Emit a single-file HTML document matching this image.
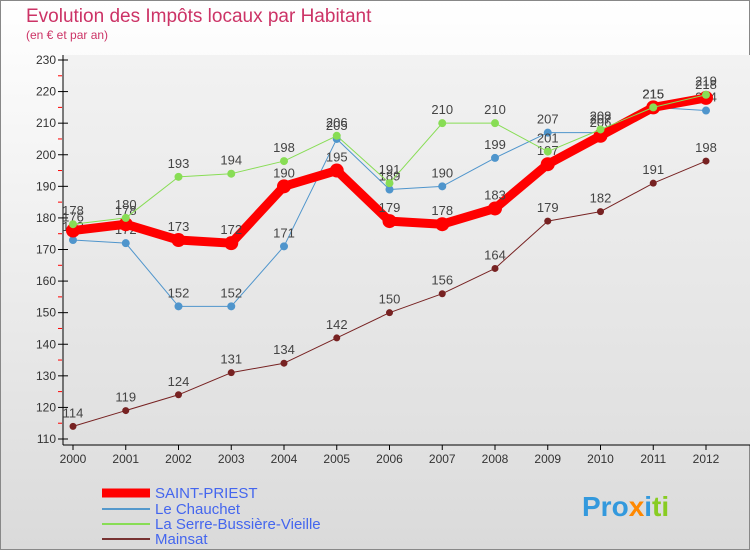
<!DOCTYPE html>
<html><head><meta charset="utf-8">
<style>
body{margin:0;background:#fff;font-family:"Liberation Sans",sans-serif;}
svg text{font-family:"Liberation Sans",sans-serif;}
</style></head>
<body>
<svg id="c" width="750" height="550" viewBox="0 0 750 550" xmlns="http://www.w3.org/2000/svg">
<defs>
<linearGradient id="bg" x1="0" y1="0" x2="0" y2="1">
<stop offset="0" stop-color="#ffffff"/><stop offset="1" stop-color="#dadada"/>
</linearGradient>
<linearGradient id="pbg" x1="0" y1="0" x2="0" y2="1">
<stop offset="0" stop-color="#f2f2f2"/><stop offset="1" stop-color="#e0e0e0"/>
</linearGradient>
</defs>
<rect x="0.5" y="0.5" width="749" height="549" fill="url(#bg)" stroke="#888"/>
<text x="26" y="22" font-size="19" fill="#cc3366">Evolution des Impôts locaux par Habitant</text>
<text x="26" y="39" font-size="12" fill="#cc3366">(en € et par an)</text>
<g id="plot"></g>
<g>
<line x1="102" y1="493" x2="150" y2="493" stroke="#ff0000" stroke-width="9"/>
<text x="155" y="498" font-size="15" fill="#4466ee">SAINT-PRIEST</text>
<line x1="102" y1="509" x2="150" y2="509" stroke="#5599cc" stroke-width="2"/>
<text x="155" y="514" font-size="15" fill="#4466ee">Le Chauchet</text>
<line x1="102" y1="524" x2="150" y2="524" stroke="#88dd55" stroke-width="2"/>
<text x="155" y="529" font-size="15" fill="#4466ee">La Serre-Bussière-Vieille</text>
<line x1="102" y1="539" x2="150" y2="539" stroke="#773333" stroke-width="2"/>
<text x="155" y="544" font-size="15" fill="#4466ee">Mainsat</text>
</g>
<g>
<text x="582" y="516" font-size="28" font-weight="bold"><tspan fill="#3399dd">Pro</tspan><tspan fill="#ff8800">x</tspan><tspan fill="#3399dd">i</tspan><tspan fill="#88cc22">ti</tspan></text>
</g>
</svg>
<script>
const years=["2000","2001","2002","2003","2004","2005","2006","2007","2008","2009","2010","2011","2012"];
const saintPriest=[176,178,173,172,190,195,179,178,183,197,206,215,218];
const leChauchet=[173,172,152,152,171,205,189,190,199,207,207,215,214];
const laSerre=[178,180,193,194,198,206,191,210,210,201,208,215,219];
const mainsat=[114,119,124,131,134,142,150,156,164,179,182,191,198];
const yTicks=[110,120,130,140,150,160,170,180,190,200,210,220,230];

const NS="http://www.w3.org/2000/svg";
const g=document.getElementById('plot');
const X0=73,X1=706,YT=60,YB=439,VMIN=110,VMAX=230;
const xs=i=>X0+i*(X1-X0)/(years.length-1);
const ys=v=>YB-(v-VMIN)*(YB-YT)/(VMAX-VMIN);
function mk(t,a){const e=document.createElementNS(NS,t);for(const k in a)e.setAttribute(k,a[k]);g.appendChild(e);return e;}

let bgR=mk('rect',{x:63,y:55,width:687,height:390,fill:'url(#pbg)'});


let ax=mk('line',{x1:63,y1:55,x2:63,y2:445,stroke:'#000'});


let bx=mk('line',{x1:63,y1:445,x2:750,y2:445,stroke:'#000'});


yTicks.forEach(v=>{
  const y=ys(v);
  let tk=mk('line',{x1:58,y1:y,x2:68,y2:y,stroke:'#000'});
  
  
  if(v<VMAX){let m=mk('line',{x1:58,y1:y-(YB-YT)/24,x2:62,y2:y-(YB-YT)/24,stroke:'#ff0000'});
  
  }
  let t=mk('text',{x:56,y:y+4,'font-size':12,'text-anchor':'end',fill:'#333'});t.textContent=v;
  
  
});
years.forEach((yr,i)=>{
  const x=xs(i);
  let tk=mk('line',{x1:x,y1:445,x2:x,y2:450,stroke:'#000'});
  
  
  let t=mk('text',{x:x,y:463,'font-size':12,'text-anchor':'middle',fill:'#333'});t.textContent=yr;
  
  
});
function series(vals,color,w,r,name){
  const p=mk('polyline',{points:vals.map((v,i)=>xs(i)+','+ys(v)).join(' '),fill:'none',stroke:color,'stroke-width':w,'stroke-linejoin':'round'});
  
  
  vals.forEach((v,i)=>{
    const c=mk('circle',{cx:xs(i),cy:ys(v),r:r,fill:color});
    
    
    const t=mk('text',{x:xs(i),y:ys(v)-9,'font-size':13,'text-anchor':'middle',fill:'#444'});t.textContent=v;
    
    
  });
}
series(mainsat,'#772222',1,3.5,'mainsat');
series(leChauchet,'#4f95cc',1,4,'le-chauchet');
series(saintPriest,'#ff0000',9,7,'saint-priest');
series(laSerre,'#88dd55',1,4,'la-serre');
</script>
</body></html>
